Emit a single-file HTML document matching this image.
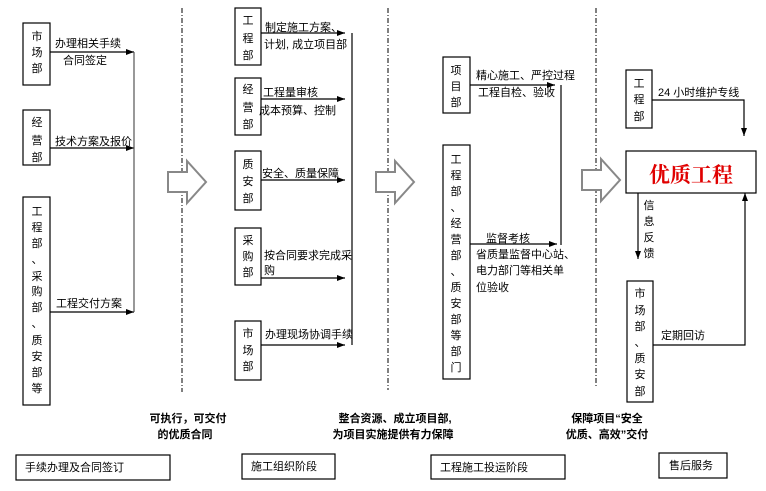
<!DOCTYPE html>
<html><head><meta charset="utf-8"><style>
html,body{margin:0;padding:0;background:#fff;width:766px;height:491px;overflow:hidden}
svg{display:block}
text{font-family:"Liberation Sans","Noto Sans CJK SC",sans-serif;font-size:11px;fill:#000}
.b{font-weight:bold}
.v{text-anchor:middle}
</style></head><body>
<svg width="766" height="491" viewBox="0 0 766 491" xmlns="http://www.w3.org/2000/svg">
<defs><marker id="a" markerWidth="8" markerHeight="6" refX="8" refY="3" orient="auto" markerUnits="userSpaceOnUse"><path d="M0,0 L8,3 L0,6z" fill="#000"/></marker></defs>
<g fill="none" stroke="#000" stroke-width="1.2">
<!-- left column -->
<rect x="23" y="23" width="27" height="62"/>
<rect x="23" y="110" width="27" height="55"/>
<rect x="23" y="197" width="27" height="208"/>
<line x1="50" y1="52" x2="134" y2="52" marker-end="url(#a)"/>
<line x1="50" y1="148" x2="134" y2="148" marker-end="url(#a)"/>
<line x1="50" y1="312" x2="134" y2="312" marker-end="url(#a)"/>
<line x1="134" y1="52" x2="134" y2="312" stroke="#555"/>
<!-- middle -->
<rect x="235" y="8" width="26" height="57"/>
<rect x="235" y="78" width="26" height="57"/>
<rect x="235" y="151" width="26" height="59"/>
<rect x="235" y="228" width="26" height="57"/>
<rect x="235" y="321" width="26" height="59"/>
<line x1="261" y1="33" x2="345" y2="33" marker-end="url(#a)"/>
<line x1="261" y1="99" x2="345" y2="99" marker-end="url(#a)"/>
<line x1="261" y1="180" x2="345" y2="180" marker-end="url(#a)"/>
<line x1="261" y1="278" x2="345" y2="278" marker-end="url(#a)"/>
<line x1="261" y1="345" x2="345" y2="345" marker-end="url(#a)"/>
<line x1="352" y1="33" x2="352" y2="345"/>
<!-- third -->
<rect x="443" y="57" width="27" height="56"/>
<rect x="443" y="145" width="27" height="234"/>
<line x1="470" y1="85" x2="555" y2="85" marker-end="url(#a)"/>
<line x1="470" y1="244" x2="557" y2="244" marker-end="url(#a)"/>
<line x1="561" y1="85" x2="561" y2="245"/>
<!-- right -->
<rect x="626" y="70" width="26" height="58"/>
<rect x="626" y="151" width="130" height="42"/>
<rect x="627" y="281" width="26" height="121"/>
<polyline points="652,100 744,100 744,136" marker-end="url(#a)"/>
<line x1="638" y1="193" x2="638" y2="259" marker-end="url(#a)"/>
<polyline points="653,345 745,345 745,193" marker-end="url(#a)"/>
<!-- bottom boxes -->
<rect x="16" y="455" width="154" height="25"/>
<rect x="242" y="454" width="93" height="25"/>
<rect x="431" y="455" width="134" height="24"/>
<rect x="659" y="453" width="68" height="25"/>
</g>
<!-- dash-dot dividers -->
<g stroke="#000" stroke-width="1" stroke-dasharray="5,2,1,2">
<line x1="182" y1="8" x2="182" y2="392"/>
<line x1="388" y1="8" x2="388" y2="390"/>
<line x1="596" y1="8" x2="596" y2="388"/>
</g>
<!-- big hollow arrows -->
<g fill="#fff" stroke="#888" stroke-width="2">
<path d="M168,172 L187,172 L187,161 L206,182 L187,203 L187,192 L168,192 Z"/>
<path d="M376,172 L395,172 L395,161 L414,182 L395,203 L395,192 L376,192 Z"/>
<path d="M582,170 L601,170 L601,159 L620,180 L601,201 L601,190 L582,190 Z"/>
</g>
<!-- vertical box texts -->
<g class="v">
<text x="37" y="40" class="v">市</text><text x="37" y="56" class="v">场</text><text x="37" y="72" class="v">部</text>
<text x="37" y="126" class="v">经</text><text x="37" y="144" class="v">营</text><text x="37" y="161" class="v">部</text>
<text x="37" y="215" class="v">工</text><text x="37" y="231" class="v">程</text><text x="37" y="247" class="v">部</text><text x="37" y="263" class="v">、</text><text x="37" y="280" class="v">采</text><text x="37" y="295" class="v">购</text><text x="37" y="311" class="v">部</text><text x="37" y="327" class="v">、</text><text x="37" y="344" class="v">质</text><text x="37" y="360" class="v">安</text><text x="37" y="376" class="v">部</text><text x="37" y="392" class="v">等</text>
<text x="248" y="24" class="v">工</text><text x="248" y="42" class="v">程</text><text x="248" y="59" class="v">部</text>
<text x="248" y="93" class="v">经</text><text x="248" y="111" class="v">营</text><text x="248" y="128" class="v">部</text>
<text x="248" y="168" class="v">质</text><text x="248" y="185" class="v">安</text><text x="248" y="202" class="v">部</text>
<text x="248" y="244" class="v">采</text><text x="248" y="260" class="v">购</text><text x="248" y="276" class="v">部</text>
<text x="248" y="337" class="v">市</text><text x="248" y="354" class="v">场</text><text x="248" y="370" class="v">部</text>
<text x="456" y="74" class="v">项</text><text x="456" y="90" class="v">目</text><text x="456" y="106" class="v">部</text>
<text x="456" y="163" class="v">工</text><text x="456" y="179" class="v">程</text><text x="456" y="195" class="v">部</text><text x="456" y="211" class="v">、</text><text x="456" y="227" class="v">经</text><text x="456" y="243" class="v">营</text><text x="456" y="259" class="v">部</text><text x="456" y="275" class="v">、</text><text x="456" y="291" class="v">质</text><text x="456" y="307" class="v">安</text><text x="456" y="323" class="v">部</text><text x="456" y="339" class="v">等</text><text x="456" y="355" class="v">部</text><text x="456" y="371" class="v">门</text>
<text x="639" y="87" class="v">工</text><text x="639" y="103" class="v">程</text><text x="639" y="120" class="v">部</text>
<text x="649" y="209" class="v">信</text><text x="649" y="225" class="v">息</text><text x="649" y="241" class="v">反</text><text x="649" y="257" class="v">馈</text>
<text x="640" y="297" class="v">市</text><text x="640" y="314" class="v">场</text><text x="640" y="330" class="v">部</text><text x="640" y="346" class="v">、</text><text x="640" y="362" class="v">质</text><text x="640" y="378" class="v">安</text><text x="640" y="395" class="v">部</text>
</g>
<!-- labels -->
<text x="55" y="47">办理相关手续</text>
<text x="63" y="64">合同签定</text>
<text x="55" y="145">技术方案及报价</text>
<text x="56" y="307">工程交付方案</text>
<text x="265" y="31">制定施工方案、</text>
<text x="264" y="48">计划, 成立项目部</text>
<text x="263" y="96">工程量审核</text>
<text x="259" y="114">成本预算、控制</text>
<text x="262" y="177">安全、质量保障</text>
<text x="264" y="259">按合同要求完成采</text>
<text x="264" y="274">购</text>
<text x="265" y="338">办理现场协调手续</text>
<text x="476" y="79">精心施工、严控过程</text>
<text x="478" y="96">工程自检、验收</text>
<text x="486" y="242">监督考核</text>
<text x="476" y="258">省质量监督中心站、</text>
<text x="476" y="274">电力部门等相关单</text>
<text x="476" y="291">位验收</text>
<text x="658" y="96">24 小时维护专线</text>
<text x="661" y="339">定期回访</text>
<text x="691" y="182" text-anchor="middle" style="font-family:'Liberation Serif','Noto Serif CJK SC',serif;font-size:21px;font-weight:bold;fill:#e00000">优质工程</text>
<text x="188" y="422" class="b" text-anchor="middle">可执行，可交付</text>
<text x="185" y="438" class="b" text-anchor="middle">的优质合同</text>
<text x="395" y="422" class="b" text-anchor="middle">整合资源、成立项目部,</text>
<text x="393" y="438" class="b" text-anchor="middle">为项目实施提供有力保障</text>
<text x="607" y="422" class="b" text-anchor="middle">保障项目“安全</text>
<text x="607" y="438" class="b" text-anchor="middle">优质、高效”交付</text>
<text x="25" y="471">手续办理及合同签订</text>
<text x="251" y="470">施工组织阶段</text>
<text x="440" y="471">工程施工投运阶段</text>
<text x="669" y="469">售后服务</text>
</svg>
</body></html>
